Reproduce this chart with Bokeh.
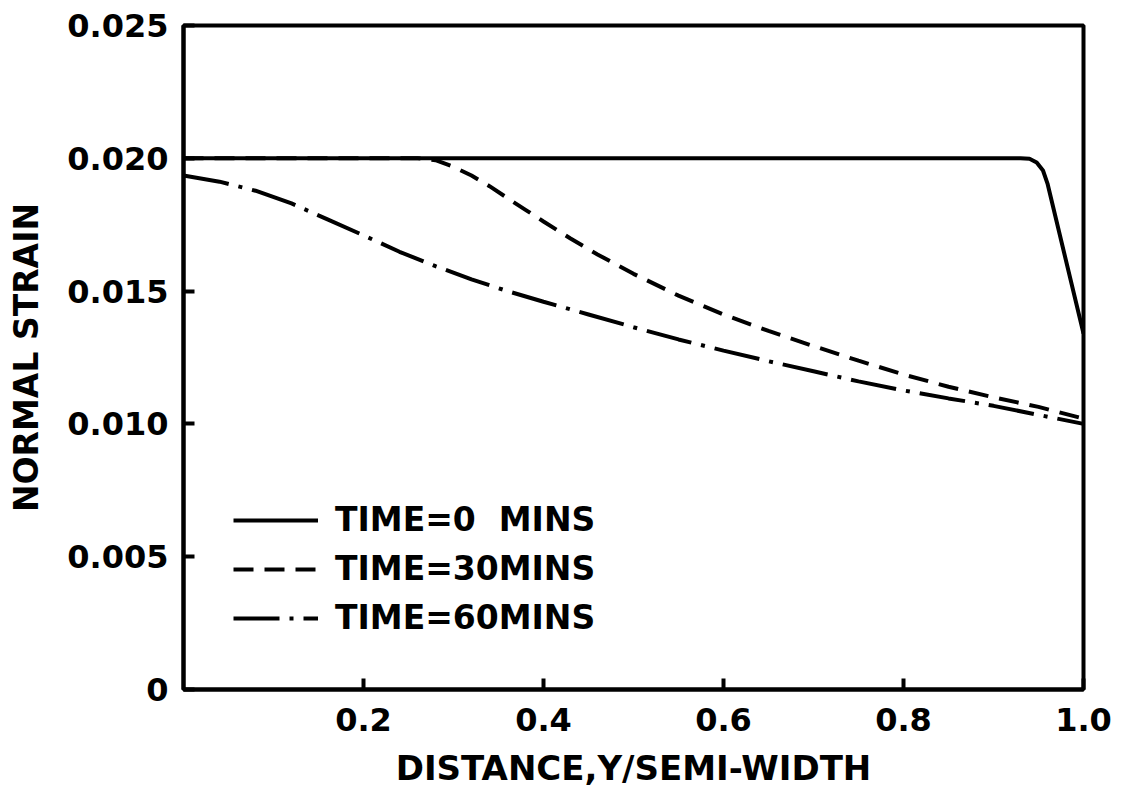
from bokeh.plotting import figure
from bokeh.models import Range1d, FixedTicker, Legend, LegendItem
from bokeh.embed import file_html
from bokeh.resources import INLINE

# ---- data ----
x_t0 = [0.0, 0.93, 0.94, 0.948, 0.955, 0.96, 1.0]
y_t0 = [0.0200, 0.0200, 0.01998, 0.01984, 0.01954, 0.01905, 0.0134]

x_t30 = [0.0, 0.26, 0.28, 0.30, 0.32, 0.34, 0.36, 0.38, 0.40, 0.43, 0.46, 0.50,
         0.55, 0.60, 0.65, 0.70, 0.75, 0.80, 0.85, 0.90, 0.95, 1.0]
y_t30 = [0.0200, 0.0200, 0.01993, 0.01968, 0.01935, 0.01895, 0.0185, 0.01806,
         0.01762, 0.01698, 0.01638, 0.01565, 0.01483, 0.01412, 0.01350, 0.01293,
         0.01238, 0.01186, 0.01140, 0.01100, 0.01064, 0.0102]

x_t60 = [0.0, 0.04, 0.08, 0.12, 0.16, 0.20, 0.24, 0.28, 0.32, 0.36, 0.40, 0.45,
         0.50, 0.55, 0.60, 0.65, 0.70, 0.75, 0.80, 0.85, 0.90, 0.95, 1.0]
y_t60 = [0.01935, 0.01912, 0.01878, 0.01830, 0.01770, 0.01710, 0.01648, 0.01594,
         0.01544, 0.01500, 0.01460, 0.01412, 0.01364, 0.01318, 0.01276, 0.01236,
         0.01198, 0.01160, 0.01126, 0.01096, 0.01068, 0.01034, 0.01000]

series_labels = ["TIME=0  MINS", "TIME=30MINS", "TIME=60MINS"]

x_ticks = [0.2, 0.4, 0.6, 0.8, 1.0]
x_tick_labels = ["0.2", "0.4", "0.6", "0.8", "1.0"]
y_ticks = [0.0, 0.005, 0.010, 0.015, 0.020, 0.025]
y_tick_labels = ["0", "0.005", "0.010", "0.015", "0.020", "0.025"]

x_title = "DISTANCE,Y/SEMI-WIDTH"
y_title = "NORMAL STRAIN"

FONT = "DejaVu Sans"

p = figure(width=1126, height=805, output_backend="svg", toolbar_location=None,
           x_range=Range1d(0, 1.0), y_range=Range1d(0, 0.025),
           min_border_left=183, min_border_right=43,
           min_border_top=25, min_border_bottom=116)

p.background_fill_color = "white"
p.border_fill_color = "white"
p.grid.visible = False
p.outline_line_color = "black"
p.outline_line_width = 4

r0 = p.line(x_t0, y_t0, line_color="black", line_width=4)
r30 = p.line(x_t30, y_t30, line_color="black", line_width=4, line_dash="20 11")
r60 = p.line(x_t60, y_t60, line_color="black", line_width=4, line_dash="46 10 4 10")

for ax, ticks, labels in ((p.xaxis[0], x_ticks, x_tick_labels),
                          (p.yaxis[0], y_ticks, y_tick_labels)):
    ax.ticker = FixedTicker(ticks=ticks)
    ax.major_label_overrides = {t: l for t, l in zip(ticks, labels)}
    ax.minor_tick_line_color = None
    ax.major_tick_in = 11
    ax.major_tick_out = 0
    ax.major_tick_line_width = 4
    ax.major_tick_line_color = "black"
    ax.axis_line_width = 4
    ax.axis_line_color = "black"
    ax.major_label_text_font = FONT
    ax.major_label_text_font_style = "bold"
    ax.major_label_text_font_size = "32px"
    ax.major_label_text_color = "black"
    ax.axis_label_text_font = FONT
    ax.axis_label_text_font_style = "bold"
    ax.axis_label_text_color = "black"

p.xaxis[0].axis_label = x_title
p.xaxis[0].axis_label_text_font_size = "34px"
p.xaxis[0].major_label_standoff = 18
p.xaxis[0].axis_label_standoff = 14
p.yaxis[0].axis_label = y_title
p.yaxis[0].axis_label_text_font_size = "33px"
p.yaxis[0].major_label_standoff = 15
p.yaxis[0].axis_label_standoff = 18

legend = Legend(items=[LegendItem(label=series_labels[0], renderers=[r0]),
                       LegendItem(label=series_labels[1], renderers=[r30]),
                       LegendItem(label=series_labels[2], renderers=[r60])],
                location=(50, 52))
legend.glyph_width = 85
legend.glyph_height = 30
legend.label_standoff = 17
legend.spacing = 10
legend.padding = 0
legend.margin = 0
legend.label_text_font = FONT
legend.label_text_font_style = "bold"
legend.label_text_font_size = "33px"
legend.label_text_color = "black"
legend.border_line_alpha = 0
legend.background_fill_alpha = 0
p.add_layout(legend)

open("out.html", "w").write(file_html(p, INLINE))
